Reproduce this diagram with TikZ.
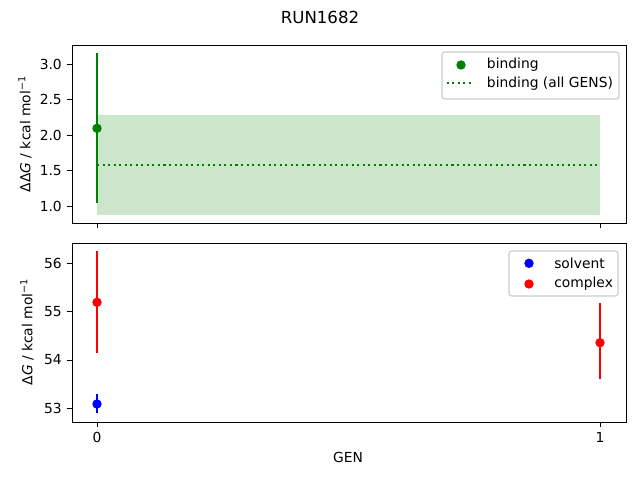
\documentclass[tikz,border=0pt]{standalone}
\usepackage{fontspec}
\setmainfont{DejaVu Sans}
\usetikzlibrary{positioning}
\definecolor{mplgreen}{HTML}{008000}
\definecolor{bandgreen}{HTML}{CCE6CC}

\begin{document}
\begin{tikzpicture}[%
      x=0.01in, y=-0.01in,
      every node/.style={inner sep=0pt, font=\fontsize{10}{12}\selectfont},
      frame/.style={line width=0.7pt},
      tickmark/.style={line width=0.7pt},
      errbar/.style={line width=1.5pt},
      avgline/.style={mplgreen, line width=1.5pt, dash pattern=on 1.5pt off 2.5pt},
      dot/.style={circle, minimum size=6.8pt, inner sep=0pt},
      legendbox/.style={draw=black!20, fill=white, fill opacity=0.8, rounded corners=2pt, line width=0.8pt}
    ]
    \useasboundingbox (0,0) rectangle (640,480);
    \node (title) at (320,17) {\fontsize{12}{14}\selectfont RUN1682};

    % upper panel
    \fill [bandgreen] (97,115) rectangle (600,215);
    \draw [avgline] (97,165) -- (600,165);
    \draw [mplgreen, errbar] (97,53.3) -- (97,202.7);
    \node [dot, fill=mplgreen] (bind0) at (97,128.3) {};
    \draw [frame] (72,45) rectangle (626,223);
    \foreach \v in {1.0,1.5,2.0,2.5,3.0}
      \draw [tickmark] (72,{206-(\v-1)*70.8}) -- ++(-4.9,0) node [anchor=east, xshift=-3.5pt] {\v};
    \foreach \x in {97,600}
      \draw [tickmark] (\x,223) -- ++(0,4.9);
    \node [rotate=90] (ylabtop) at (25,134) {ΔΔ\textit{G} / kcal mol\textsuperscript{−1}};

    \draw [legendbox] (442,52) rectangle (619,99);
    \node [dot, fill=mplgreen] (legbind) at (461,65) {};
    \node [anchor=west] (legbindt) at (486.7,65) {binding};
    \draw [avgline] (446.7,83.3) -- (472,83.3);
    \node [anchor=west] (legallt) at (486.7,83.3) {binding (all GENS)};

    % lower panel
    \draw [red, errbar] (97,251) -- (97,352.7);
    \draw [red, errbar] (600,302.7) -- (600,379.3);
    \draw [blue, errbar] (97,394) -- (97,413.3);
    \node [dot, fill=red] (cplx0) at (97,302.3) {};
    \node [dot, fill=red] (cplx1) at (600,342.7) {};
    \node [dot, fill=blue] (solv0) at (97,404) {};
    \draw [frame] (72,243) rectangle (626,422);
    \foreach \v in {53,54,55,56}
      \draw [tickmark] (72,{408.3-(\v-53)*48.3}) -- ++(-4.9,0) node [anchor=east, xshift=-3.5pt] {\v};
    \foreach \x/\g in {97/0,600/1}
      \draw [tickmark] (\x,422) -- ++(0,4.9) node [anchor=north, yshift=-3.5pt] {\g};
    \node [rotate=90] (ylabbot) at (27,332) {Δ\textit{G} / kcal mol\textsuperscript{−1}};
    \node (xlab) at (348,457) {GEN};

    \draw [legendbox] (509,251) rectangle (618,296);
    \node [dot, fill=blue] (legsolv) at (529,263.3) {};
    \node [anchor=west] (legsolvt) at (554,263.3) {solvent};
    \node [dot, fill=red] (legcplx) at (529,284) {};
    \node [anchor=west] (legcplxt) at (554,284) {complex};
  \end{tikzpicture}
\end{document}
